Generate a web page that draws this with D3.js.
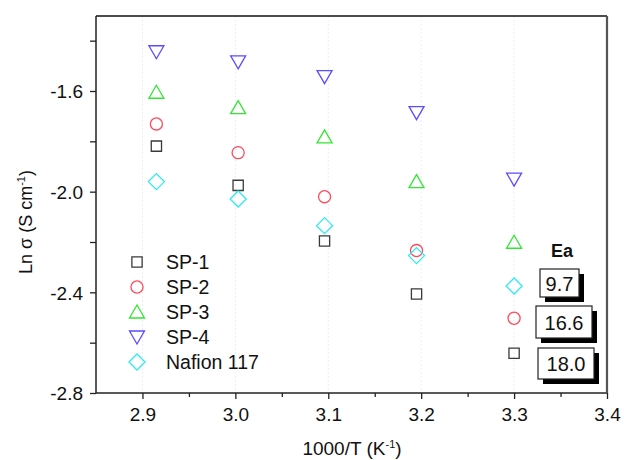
<!DOCTYPE html>
<html>
<head>
<meta charset="utf-8">
<script src="https://cdn.jsdelivr.net/npm/d3@7/dist/d3.min.js"></script>
<style>
  html, body { margin: 0; padding: 0; background: #fff; }
  svg { display: block; font-family: "Liberation Sans", Arial, sans-serif; }
</style>
</head>
<body>
<svg id="chart" width="624" height="460"></svg>
<script>
// Inverse temperature (1000/T, K^-1) for 70, 60, 50, 40 and 30 °C
const invT = [2.915, 3.003, 3.096, 3.195, 3.300];

// ln(conductivity) for each membrane
const sp1    = [-1.819, -1.975, -2.196, -2.407, -2.642];
const sp2    = [-1.731, -1.845, -2.020, -2.234, -2.503];
const sp3    = [-1.605, -1.666, -1.782, -1.960, -2.201];
const sp4    = [-1.444, -1.484, -1.543, -1.686, -1.950];
const nafion = [-1.960, -2.029, -2.135, -2.254, -2.375];

const seriesNames = ["SP-1", "SP-2", "SP-3", "SP-4", "Nafion 117"];
const seriesColors = ["#3a3a3a", "#ff4a5a", "#33e633", "#5a4cff", "#30e8f0"];

// Activation energies shown in the boxes
const eaValues = ["9.7", "16.6", "18.0"];

const xTicks = [2.9, 3.0, 3.1, 3.2, 3.3, 3.4];
const yTicks = [-2.8, -2.4, -2.0, -1.6];

const svg = d3.select("#chart");
const m = { left: 96, right: 607, top: 16, bottom: 393 };

const x = d3.scaleLinear().domain([2.85, 3.4]).range([m.left, m.right]);
const y = d3.scaleLinear().domain([-2.8, -1.302]).range([m.bottom, m.top]);

// tick labels with a plain hyphen for negatives
const fmt = d => d.toFixed(1);

// faint vertical guide lines
svg.append("g").selectAll("line")
  .data(xTicks.slice(0, 5))
  .join("line")
  .attr("x1", d => x(d)).attr("x2", d => x(d))
  .attr("y1", m.top).attr("y2", m.bottom)
  .attr("stroke", "#eceef4").attr("stroke-width", 1)
  .attr("stroke-dasharray", "2,2");

// axes
const xAxis = d3.axisBottom(x).tickValues(xTicks).tickFormat(fmt)
  .tickSize(6).tickPadding(9);
const xMinor = d3.axisBottom(x).tickValues([2.95, 3.05, 3.15, 3.25, 3.35])
  .tickSize(4).tickFormat("");
const yAxis = d3.axisLeft(y).tickValues(yTicks).tickFormat(fmt)
  .tickSize(6).tickPadding(7);
const yMinor = d3.axisLeft(y).tickValues([-2.6, -2.2, -1.8, -1.4])
  .tickSize(6).tickFormat("");

function styleAxis(g) {
  g.select(".domain").remove();
  g.selectAll("line").attr("stroke", "#222").attr("stroke-width", 1.3);
  g.selectAll("text").attr("fill", "#111").style("font-size", "19px")
    .style("font-family", "'Liberation Sans', Arial, sans-serif");
}

svg.append("g").attr("transform", `translate(0,${m.bottom})`).call(xAxis).call(styleAxis);
svg.append("g").attr("transform", `translate(0,${m.bottom})`).call(xMinor).call(styleAxis);
svg.append("g").attr("transform", `translate(${m.left},0)`).call(yAxis).call(styleAxis)
  .selectAll("text").attr("dy", "0.36em");
svg.append("g").attr("transform", `translate(${m.left},0)`).call(yMinor).call(styleAxis);

// frame
svg.append("line").attr("x1", m.left).attr("x2", m.right).attr("y1", m.top).attr("y2", m.top)
  .attr("stroke", "#111").attr("stroke-width", 1.5);
svg.append("line").attr("x1", m.left).attr("x2", m.left).attr("y1", m.top).attr("y2", m.bottom)
  .attr("stroke", "#222").attr("stroke-width", 1.5);
svg.append("line").attr("x1", m.left).attr("x2", m.right).attr("y1", m.bottom).attr("y2", m.bottom)
  .attr("stroke", "#222").attr("stroke-width", 1.5);
svg.append("line").attr("x1", m.right).attr("x2", m.right).attr("y1", m.top).attr("y2", m.bottom)
  .attr("stroke", "#555").attr("stroke-width", 2.2);

// marker shapes
function markerPath(i) {
  if (i === 0) return d3.symbol().type(d3.symbolSquare).size(105)();
  if (i === 1) return d3.symbol().type(d3.symbolCircle).size(115)();
  if (i === 2) return "M0,-7L7.5,6L-7.5,6Z";      // up triangle
  if (i === 3) return "M0,7L7.5,-6L-7.5,-6Z";      // down triangle
  return "M0,-8L8,0L0,8L-8,0Z";                     // diamond
}

const allSeries = [sp1, sp2, sp3, sp4, nafion];
allSeries.forEach((vals, i) => {
  svg.append("g").selectAll("path")
    .data(vals)
    .join("path")
    .attr("d", markerPath(i))
    .attr("transform", (d, k) => `translate(${x(invT[k])},${y(d)})`)
    .attr("fill", "none")
    .attr("stroke", seriesColors[i])
    .attr("stroke-width", 1.3);
});

// legend
const legend = svg.append("g");
seriesNames.forEach((name, i) => {
  const ly = 262 + i * 25;
  legend.append("path").attr("d", markerPath(i))
    .attr("transform", `translate(137,${ly})`)
    .attr("fill", "none").attr("stroke", seriesColors[i]).attr("stroke-width", 1.3);
  legend.append("text").attr("x", 166).attr("y", ly + 7)
    .attr("fill", "#111").style("font-size", "19.5px").text(name);
});

// activation energy boxes
svg.append("text").attr("x", 562).attr("y", 257).attr("text-anchor", "middle")
  .style("font-size", "18px").style("font-weight", "bold").attr("fill", "#111").text("Ea");

const boxes = [
  { x0: 540, x1: 579, y0: 269, y1: 297 },
  { x0: 536, x1: 592, y0: 306, y1: 338 },
  { x0: 538, x1: 594, y0: 348, y1: 379 }
];
eaValues.forEach((v, i) => {
  const b = boxes[i];
  svg.append("rect").attr("x", b.x0 + 5).attr("y", b.y0 + 5)
    .attr("width", b.x1 - b.x0).attr("height", b.y1 - b.y0).attr("fill", "#000");
  svg.append("rect").attr("x", b.x0).attr("y", b.y0)
    .attr("width", b.x1 - b.x0).attr("height", b.y1 - b.y0)
    .attr("fill", "#fff").attr("stroke", "#222").attr("stroke-width", 1.2);
  svg.append("text").attr("x", (b.x0 + b.x1) / 2).attr("y", (b.y0 + b.y1) / 2 + 7.5)
    .attr("text-anchor", "middle").style("font-size", "20px").attr("fill", "#111").text(v);
});

// axis titles
const yTitle = svg.append("text")
  .attr("transform", "translate(32,222) rotate(-90)")
  .attr("text-anchor", "middle").style("font-size", "18px").attr("fill", "#111");
yTitle.append("tspan").text("Ln σ (S cm");
yTitle.append("tspan").attr("dy", -7).style("font-size", "11px").text("-1");
yTitle.append("tspan").attr("dy", 7).text(")");

const xTitle = svg.append("text")
  .attr("x", 352).attr("y", 455)
  .attr("text-anchor", "middle").style("font-size", "19px").attr("fill", "#111");
xTitle.append("tspan").text("1000/T (K");
xTitle.append("tspan").attr("dy", -7).style("font-size", "11px").text("-1");
xTitle.append("tspan").attr("dy", 7).text(")");
</script>
</body>
</html>
